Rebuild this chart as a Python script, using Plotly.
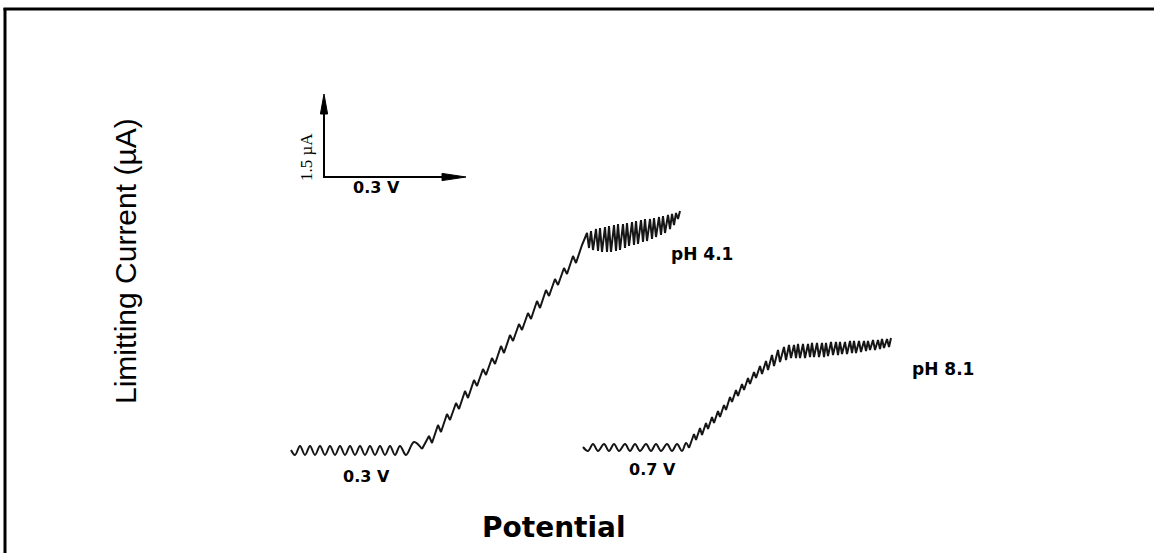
import plotly.graph_objects as go

# ---- Data (chart units: x = potential axis, y = current axis) ----
ph41_base_x = [291, 295, 300, 305, 310, 315, 320, 325, 330, 335, 340, 345, 350, 355, 360, 365, 370, 375, 380, 385, 390, 395, 400, 406, 414, 422]
ph41_base_y = [450, 455, 446, 455, 446, 455, 446, 455, 446, 455, 446, 455, 446, 455, 446, 455, 446, 455, 446, 455, 446, 455, 446, 455, 442, 449]
ph41_rise_x = [429, 432, 438, 441, 447, 450, 456, 459, 465, 468, 474, 477, 483, 486, 492, 495, 501, 504, 510, 513, 519, 522, 528, 531, 537, 540, 546, 549, 555, 558, 564, 567, 573, 576, 582]
ph41_rise_y = [436, 443, 425, 432, 414, 420, 403, 409, 391, 398, 380, 386, 369, 375, 358, 364, 346, 353, 335, 341, 324, 330, 313, 319, 301, 308, 290, 296, 279, 285, 268, 274, 256, 263, 245]
ph41_plat_x = [587, 589, 591, 593, 596, 598, 600, 602, 605, 607, 609, 611, 614, 616, 618, 620, 623, 625, 627, 629, 632, 634, 636, 638, 641, 643, 645, 647, 650, 652, 654, 656, 659, 661, 663, 665, 668, 670, 672, 674, 676, 678, 680]
ph41_plat_y = [233, 248, 231, 250, 229, 251, 228, 252, 227, 252, 226, 252, 225, 251, 224, 250, 224, 248, 223, 246, 222, 245, 221, 244, 220, 242, 219, 241, 219, 239, 218, 237, 217, 235, 216, 233, 215, 229, 214, 225, 213, 219, 211]

ph81_base_x = [583, 588, 593, 598, 604, 609, 614, 619, 625, 630, 635, 640, 646, 651, 656, 661, 667, 672, 677, 682, 686, 689]
ph81_base_y = [447, 451, 444, 451, 444, 451, 444, 451, 444, 451, 444, 451, 444, 451, 444, 451, 444, 451, 444, 451, 443, 448]
ph81_rise_x = [694, 696, 700, 702, 706, 708, 712, 714, 718, 720, 724, 726, 730, 732, 736, 738, 742, 744, 748, 750, 754, 756, 760, 762, 766, 768, 772, 774, 778, 780, 784, 786]
ph81_rise_y = [434, 440, 428, 435, 423, 429, 417, 423, 411, 417, 405, 410, 397, 402, 390, 396, 384, 390, 378, 384, 372, 378, 366, 374, 361, 370, 355, 366, 350, 362, 347, 360]
ph81_plat_x = [789, 791, 794, 796, 798, 800, 803, 805, 808, 810, 812, 814, 817, 819, 822, 824, 826, 828, 831, 833, 836, 838, 840, 842, 845, 847, 850, 852, 854, 856, 859, 861, 864, 866, 868, 870, 873, 875, 878, 880, 882, 884, 887, 889, 891]
ph81_plat_y = [345, 358, 345, 358, 344, 358, 344, 358, 344, 357, 343, 357, 343, 357, 343, 357, 343, 356, 342, 355, 342, 355, 342, 354, 342, 354, 341, 353, 341, 353, 341, 352, 341, 351, 341, 350, 340, 350, 340, 349, 339, 348, 339, 347, 338]

series_names = ["pH 4.1", "pH 8.1"]
onset_labels = ["0.3 V", "0.7 V"]
scale_labels = ["1.5 µA", "0.3 V"]

# scale bar (origin and arrow tips, chart units)
scale_origin = (324, 177)
scale_tip_y = 94      # 1.5 µA
scale_tip_x = 466     # 0.3 V

W, H = 1156, 553
line_col = "#151515"
lw = 2.0

fig = go.Figure()
for bx, by, rx, ry, px, py, nm in [
    (ph41_base_x, ph41_base_y, ph41_rise_x, ph41_rise_y, ph41_plat_x, ph41_plat_y, series_names[0]),
    (ph81_base_x, ph81_base_y, ph81_rise_x, ph81_rise_y, ph81_plat_x, ph81_plat_y, series_names[1]),
]:
    # residual-current baseline (smooth drop oscillation)
    fig.add_trace(go.Scatter(x=bx, y=by, mode="lines", name=nm, line_shape="spline",
                             line=dict(color=line_col, width=lw), hoverinfo="skip"))
    # wave rise and limiting-current plateau
    fig.add_trace(go.Scatter(x=[bx[-1]] + rx + px, y=[by[-1]] + ry + py, mode="lines", name=nm,
                             line=dict(color=line_col, width=lw), hoverinfo="skip"))

label_font = dict(family="DejaVu Sans", size=16, color="black", weight="bold")
annotations = [
    dict(x=702, y=254, text=series_names[0], font=dict(family="DejaVu Sans", size=17, color="black", weight="bold")),
    dict(x=943, y=369, text=series_names[1], font=dict(family="DejaVu Sans", size=17, color="black", weight="bold")),
    dict(x=366, y=476, text=onset_labels[0], font=label_font),
    dict(x=652, y=469, text=onset_labels[1], font=label_font),
    dict(x=306, y=157, text=scale_labels[0], textangle=-90,
         font=dict(family="Liberation Serif", size=17, color="black")),
    dict(x=376, y=187, text=scale_labels[1], font=label_font),
    dict(x=125, y=261, text="Limitting Current (µA)", textangle=-90,
         font=dict(family="Liberation Sans", size=30, color="black")),
    dict(x=554, y=527, text="Potential",
         font=dict(family="DejaVu Sans", size=28, color="black", weight="bold")),
]
for a in annotations:
    a.update(xref="x", yref="y", showarrow=False, xanchor="center", yanchor="middle")

ox, oy = scale_origin
head_len_v, head_len_h, head_half = 20, 24, 3.6
shapes = [
    # frame (top and left edges only, as in the scan)
    dict(type="line", xref="x", yref="y", x0=3.5, x1=W - 2, y0=9, y1=9, line=dict(color="black", width=3)),
    dict(type="line", xref="x", yref="y", x0=5, x1=5, y0=8, y1=H, line=dict(color="black", width=3)),
    # scale bar shafts
    dict(type="line", xref="x", yref="y", x0=ox, x1=ox, y0=oy + 1, y1=scale_tip_y + head_len_v - 2,
         line=dict(color="black", width=2)),
    dict(type="line", xref="x", yref="y", x0=ox, x1=scale_tip_x - head_len_h + 2, y0=oy, y1=oy,
         line=dict(color="black", width=2)),
    # scale bar heads
    dict(type="path", xref="x", yref="y",
         path=f"M {ox},{scale_tip_y} L {ox - head_half},{scale_tip_y + head_len_v} "
              f"L {ox + head_half},{scale_tip_y + head_len_v} Z",
         fillcolor="black", line=dict(color="black", width=1)),
    dict(type="path", xref="x", yref="y",
         path=f"M {scale_tip_x},{oy} L {scale_tip_x - head_len_h},{oy - head_half} "
              f"L {scale_tip_x - head_len_h},{oy + head_half} Z",
         fillcolor="black", line=dict(color="black", width=1)),
]

fig.update_layout(
    width=W, height=H,
    margin=dict(l=0, r=0, t=0, b=0),
    paper_bgcolor="white", plot_bgcolor="white",
    showlegend=False,
    xaxis=dict(range=[0, W], visible=False, fixedrange=True),
    yaxis=dict(range=[H, 0], visible=False, fixedrange=True),
    annotations=annotations,
    shapes=shapes,
)

fig.write_html("out.html", config={"displayModeBar": False})
